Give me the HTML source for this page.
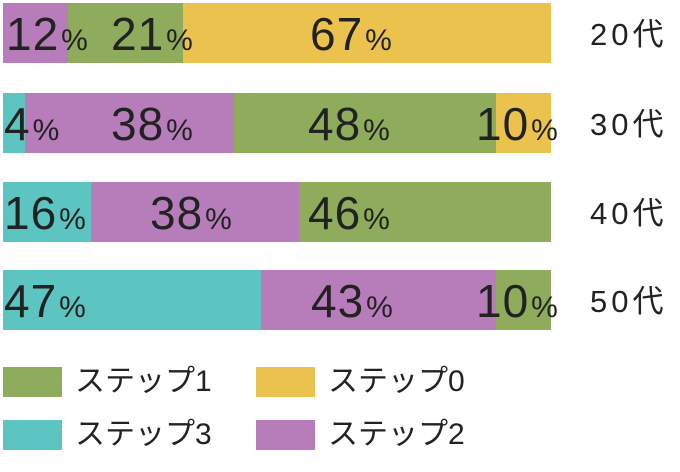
<!DOCTYPE html>
<html><head><meta charset="utf-8"><style>
body{margin:0;width:680px;height:472px;background:#fff;position:relative;overflow:hidden;font-family:"Liberation Sans","Noto Sans CJK JP",sans-serif;color:#222}
.b{position:absolute;height:60px}
.t{position:absolute;font-size:46px;line-height:62px;white-space:nowrap;letter-spacing:1px}
.t small{font-size:30px;letter-spacing:0;margin-left:2px}
.a{position:absolute;left:590px;font-size:31px;line-height:60px;letter-spacing:4px}
.s{position:absolute;width:59px;height:30px}
.l{position:absolute;font-size:30px;line-height:30px}
.g{background:#8fab5c}.y{background:#ebc24e}.p{background:#b77dbb}.c{background:#5cc4c1}
</style></head><body>
<div class="b p" style="top:3px;left:3px;width:65px"></div>
<div class="b g" style="top:3px;left:68px;width:115px"></div>
<div class="b y" style="top:3px;left:183px;width:368px"></div>
<div class="b c" style="top:93px;left:3px;width:22px"></div>
<div class="b p" style="top:93px;left:25px;width:209px"></div>
<div class="b g" style="top:93px;left:234px;width:262px"></div>
<div class="b y" style="top:93px;left:496px;width:55px"></div>
<div class="b c" style="top:182px;left:3px;width:88px"></div>
<div class="b p" style="top:182px;left:91px;width:208px"></div>
<div class="b g" style="top:182px;left:299px;width:252px"></div>
<div class="b c" style="top:270px;left:3px;width:258px"></div>
<div class="b p" style="top:270px;left:261px;width:235px"></div>
<div class="b g" style="top:270px;left:496px;width:55px"></div>

<div class="t" style="top:3px;left:6px">12<small>%</small></div>
<div class="t" style="top:3px;left:111px">21<small>%</small></div>
<div class="t" style="top:3px;left:310px">67<small>%</small></div>
<div class="t" style="top:93px;left:4px">4<small>%</small></div>
<div class="t" style="top:93px;left:111px">38<small>%</small></div>
<div class="t" style="top:93px;left:308px">48<small>%</small></div>
<div class="t" style="top:93px;left:476px">10<small>%</small></div>
<div class="t" style="top:182px;left:4px">16<small>%</small></div>
<div class="t" style="top:182px;left:150px">38<small>%</small></div>
<div class="t" style="top:182px;left:308px">46<small>%</small></div>
<div class="t" style="top:270px;left:4px">47<small>%</small></div>
<div class="t" style="top:270px;left:311px">43<small>%</small></div>
<div class="t" style="top:270px;left:476px">10<small>%</small></div>

<div class="a" style="top:5px">20代</div>
<div class="a" style="top:95px">30代</div>
<div class="a" style="top:184px">40代</div>
<div class="a" style="top:272px">50代</div>

<div class="s g" style="left:3px;top:367px"></div><div class="l" style="left:75px;top:367px">ステップ1</div>
<div class="s y" style="left:256px;top:367px"></div><div class="l" style="left:328px;top:367px">ステップ0</div>
<div class="s c" style="left:3px;top:420px"></div><div class="l" style="left:75px;top:420px">ステップ3</div>
<div class="s p" style="left:256px;top:420px"></div><div class="l" style="left:328px;top:420px">ステップ2</div>
</body></html>
